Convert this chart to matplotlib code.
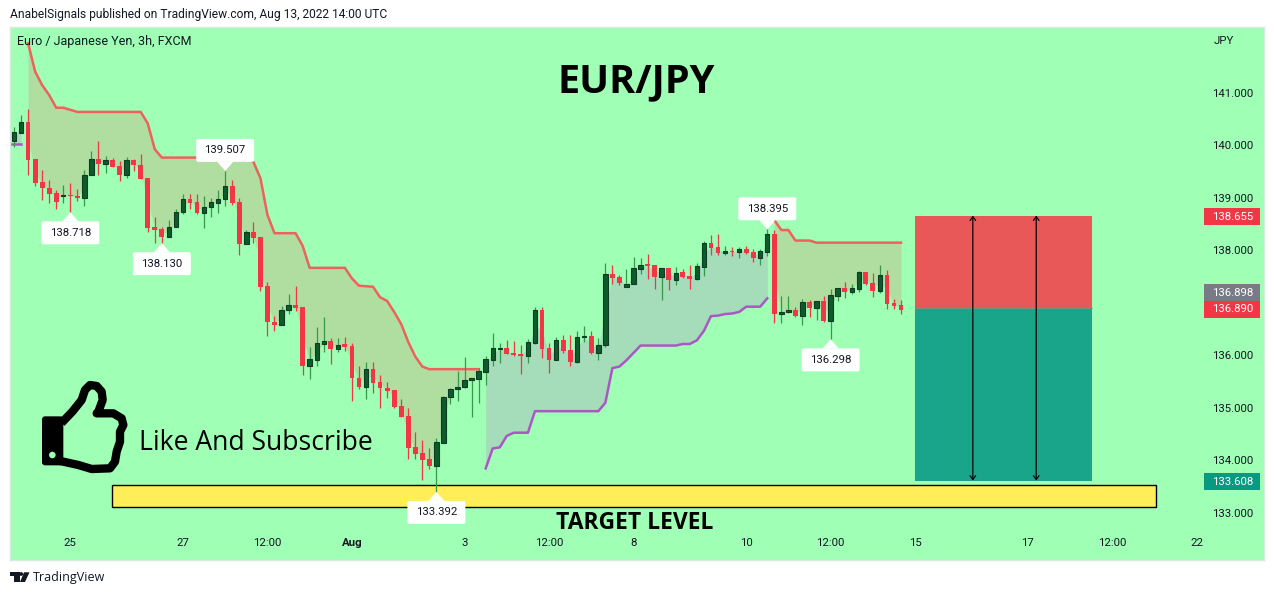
import matplotlib
matplotlib.use("Agg")
import matplotlib.pyplot as plt
from matplotlib.patches import Rectangle, Polygon, FancyBboxPatch, Circle
import numpy as np

# ---- data ----
opens = [140.08,140.23,140.43,139.73,139.29,139.19,139.08,139.03,139.05,139.03,139.00,139.42,139.73,139.64,139.71,139.60,139.43,139.71,139.62,139.37,
         138.44,138.40,138.25,138.43,138.72,138.97,138.91,138.71,138.81,138.90,138.97,139.22,138.91,138.12,138.34,138.24,137.31,136.63,136.58,136.85,
         136.96,136.91,135.80,135.91,136.21,136.26,136.12,136.21,136.17,135.57,135.40,135.73,135.49,135.38,135.33,135.02,134.83,134.24,134.13,134.01,
         133.89,134.33,135.20,135.36,135.40,135.53,135.55,135.68,135.91,136.12,136.13,136.03,136.01,135.99,136.23,136.86,136.13,135.91,136.29,136.09,
         135.87,136.35,136.36,136.04,136.20,137.54,137.49,137.30,137.36,137.64,137.71,137.71,137.49,137.66,137.43,137.58,137.50,137.45,137.68,138.13,
         138.06,137.95,137.97,137.97,138.02,137.96,137.85,137.96,138.30,136.78,136.81,136.86,136.74,137.01,136.90,137.03,136.65,137.12,137.27,137.20,
         137.26,137.58,137.37,137.22,137.52,136.99,136.95]
closes = [140.25,140.43,139.72,139.28,139.19,139.07,138.92,139.04,139.02,138.99,139.42,139.73,139.64,139.71,139.59,139.43,139.71,139.61,139.36,138.42,
          138.39,138.25,138.43,138.72,138.97,138.90,138.70,138.81,138.91,138.97,139.22,138.90,138.12,138.34,138.23,137.30,136.62,136.57,136.85,136.96,
          136.90,135.80,135.92,136.22,136.26,136.12,136.20,136.16,135.57,135.40,135.73,135.47,135.38,135.32,135.01,134.82,134.23,134.12,134.00,133.89,
          134.34,135.20,135.36,135.40,135.53,135.56,135.69,135.92,136.13,136.13,136.02,136.00,135.98,136.24,136.85,136.11,135.90,136.28,136.08,135.87,
          136.35,136.35,136.04,136.20,137.54,137.47,137.37,137.36,137.65,137.71,137.70,137.49,137.65,137.43,137.57,137.49,137.45,137.69,138.13,138.04,
          137.94,137.98,137.96,138.01,137.94,137.85,137.98,138.30,136.78,136.81,136.86,136.74,137.01,136.90,137.02,136.65,137.14,137.27,137.20,137.27,
          137.58,137.35,137.22,137.52,136.97,136.93,136.86]
highs = [140.34,140.57,140.68,139.73,139.52,139.33,139.15,139.24,139.27,139.16,139.52,139.89,140.08,139.80,139.76,139.69,139.78,139.73,139.82,139.38,
         138.63,138.43,138.57,138.79,139.07,139.07,139.07,139.03,139.00,139.14,139.507,139.33,139.00,138.39,138.53,138.24,137.40,136.74,136.93,137.17,
         137.31,136.91,136.15,136.53,136.72,136.32,136.32,136.34,136.22,135.79,135.87,135.87,135.62,135.49,135.33,135.16,135.00,134.53,134.39,134.22,
         134.41,135.22,135.38,135.69,135.97,135.57,135.76,135.98,136.42,136.23,136.29,136.27,136.19,136.30,136.91,136.91,136.23,136.34,136.38,136.38,
         136.46,136.55,136.46,136.32,137.75,137.71,137.52,137.64,137.87,137.85,137.92,137.71,137.65,137.66,137.67,137.64,137.71,137.75,138.17,138.29,
         138.30,138.08,138.06,138.06,138.08,138.02,138.02,138.395,138.38,137.12,137.12,136.91,137.07,137.05,137.03,137.12,137.26,137.28,137.39,137.35,
         137.60,137.58,137.56,137.71,137.62,137.07,137.05]
lows = [139.97,140.23,139.42,139.21,138.95,138.89,138.78,138.89,138.718,138.93,138.84,139.42,139.42,139.46,139.59,139.32,139.38,139.51,139.36,138.35,
        138.14,138.13,138.25,138.43,138.68,138.79,138.68,138.42,138.62,138.71,138.83,138.86,137.91,138.12,138.14,137.22,136.37,136.46,136.58,136.79,
        136.84,135.62,135.55,135.80,136.06,135.83,136.06,136.08,135.13,135.35,135.17,135.28,135.00,135.18,135.00,134.82,134.02,134.01,133.62,133.82,
        133.392,134.32,135.07,135.13,135.38,134.82,135.09,135.43,135.80,135.85,136.02,135.98,135.64,135.84,136.21,135.94,135.66,135.90,136.04,135.79,
        135.85,136.25,136.02,135.90,136.15,137.35,137.33,137.30,137.36,137.54,137.45,137.26,137.05,137.24,137.33,137.47,137.26,137.43,137.50,137.90,
        137.90,137.90,137.89,137.85,137.92,137.77,137.72,137.89,136.61,136.61,136.80,136.72,136.57,136.72,136.67,136.63,136.298,137.03,137.09,137.16,
        137.20,137.33,137.10,137.18,136.88,136.88,136.78]

upper_band_a = [141.94,141.40,141.14,140.95,140.71,140.71,140.67,140.63,140.63,140.63,140.63,140.63,140.63,140.63,140.63,140.63,140.63,140.41,139.92,139.76,
                139.76,139.76,139.76,139.76,139.76,139.76,139.76,139.76,139.76,139.76,139.76,139.76,139.68,139.37,138.67,138.32,138.32,138.32,138.32,138.08,
                137.66,137.66,137.66,137.66,137.66,137.66,137.46,137.32,137.31,137.30,137.10,137.03,136.82,136.59,136.25,135.97,135.78,135.73,135.73,135.73,
                135.73,135.73,135.73,135.73,135.73]
upper_band_b = [138.57,138.38,138.38,138.18,138.18,138.18,138.14,138.14,138.14,138.14,138.14,138.14,138.14,138.14,138.14,138.14,138.14,138.14,138.14]
lower_band_a = [140.02,140.02,140.02]
lower_band_b = [133.84,134.22,134.24,134.46,134.52,134.52,134.52,134.93,134.93,134.93,134.93,134.93,134.93,134.93,134.93,134.93,134.93,135.09,135.75,135.78,
                135.90,136.04,136.18,136.18,136.18,136.18,136.18,136.18,136.21,136.21,136.28,136.46,136.74,136.75,136.78,136.79,136.82,136.92,136.92,136.92,137.08]

price_ticks = [133, 134, 135, 136, 138, 139, 140, 141]
time_ticks = [8, 24, 36, 48, 64, 76, 88, 104, 116, 128, 144, 156, 168]
time_labels = ["25", "27", "12:00", "Aug", "3", "12:00", "8", "10", "12:00", "15", "17", "12:00", "22"]

extreme_bars = [8, 21, 30, 60, 107, 116]
extreme_sides = ["low", "low", "high", "low", "high", "low"]

entry_price = 136.898
stop_price = 138.655
target_price = 133.608
last_price = 136.890
target_zone = (133.10, 133.53)

# ---- layout ----
W, H = 1274, 595
PANE = (10, 27, 1264, 560)
X0, DX = 14.0, 7.04
P141, PPU = 92.5, 52.5
BG = "#9effb5"
INK = "#131722"
RED = "#f23645"
BODY_UP = "#0f5a2a"
EDGE_UP = "#0b3d25"
WICK_UP = "#379a49"
FILL_DN = "#b0dda0"
FILL_UP = "#a5dcb9"
FONT = "Open Sans"
TICKFONT = "Roboto"

fig = plt.figure(figsize=(W / 100, H / 100), dpi=100, facecolor="white")
ax = fig.add_axes([PANE[0] / W, 1 - PANE[3] / H, (PANE[2] - PANE[0]) / W, (PANE[3] - PANE[1]) / H], facecolor=BG)
ax.set_xlim((PANE[0] - X0) / DX, (PANE[2] - X0) / DX)
ax.set_ylim(141 - (PANE[3] - P141) / PPU, 141 + (P141 - PANE[1]) / PPU)
for s in ax.spines.values():
    s.set_color("#d5ecdc")
    s.set_linewidth(1)

o, c, hi, lo = map(np.array, (opens, closes, highs, lows))
x = np.arange(len(o))
mid = (o + c) / 2


def band(values, start, line_color, fill_color):
    v = np.array(values)
    idx = np.arange(start, start + len(v))
    keep = (idx >= 0) & (idx < len(o))
    ax.fill_between(idx[keep], mid[idx[keep]], v[keep], color=fill_color, lw=0, zorder=1)
    ax.plot(idx, v, color=line_color, lw=1.8, zorder=2, solid_joinstyle="round", alpha=0.95)


band(upper_band_a, 2, "#f25a5a", FILL_DN)
band(upper_band_b, 108, "#f25a5a", FILL_DN)
band(lower_band_a, -1, "#ad4fc6", FILL_UP)
band(lower_band_b, 67, "#ad4fc6", FILL_UP)

up = c >= o
ax.vlines(x[up], lo[up], hi[up], color=WICK_UP, lw=0.9, zorder=3)
ax.vlines(x[~up], lo[~up], hi[~up], color=RED, lw=0.9, zorder=3)
ax.bar(x[up], np.maximum(c - o, 0.02)[up], bottom=o[up], width=0.62, color=BODY_UP, edgecolor=EDGE_UP, lw=0.8, zorder=4)
ax.bar(x[~up], np.maximum(o - c, 0.03)[~up], bottom=c[~up], width=0.68, color=RED, lw=0, zorder=4)

# risk / reward boxes
bx0, bx1 = 128, 153.15
ax.add_patch(Rectangle((bx0, entry_price), bx1 - bx0, stop_price - entry_price, color="#e85858", lw=0, zorder=2))
ax.add_patch(Rectangle((bx0, target_price), bx1 - bx0, entry_price - target_price, color="#18a589", lw=0, zorder=2))
ax.plot([bx0, bx1], [entry_price, entry_price], color="#8a8f7c", lw=0.6, zorder=2)
for ax_i in (136.2, 145.2):
    ax.annotate("", xy=(ax_i, stop_price), xytext=(ax_i, target_price),
                arrowprops=dict(arrowstyle="<->,head_length=0.28,head_width=0.2", color="black", lw=0.85,
                                shrinkA=0, shrinkB=0), zorder=3)

# target zone
ax.add_patch(Rectangle((13.9, target_zone[0]), 162.2 - 13.9, target_zone[1] - target_zone[0], fc="#ffee58", ec="black", lw=1, zorder=1.5))

# axes ticks inside the pane
ax.set_yticks(price_ticks)
ax.set_yticklabels([f"{p:.3f}" for p in price_ticks], fontname=TICKFONT, fontsize=8.2, color=INK, ha="right")
ax.yaxis.tick_right()
ax.tick_params(axis="y", length=0, pad=-8)
ax.set_xticks(time_ticks)
ax.set_xticklabels(time_labels, fontname=TICKFONT, fontsize=8.2, color=INK)
ax.tick_params(axis="x", length=0, pad=-16)
for lab in ax.get_xticklabels():
    if lab.get_text() == "Aug":
        lab.set_fontweight("bold")

# ---- overlay in pixel coordinates ----
ov = fig.add_axes([0, 0, 1, 1], facecolor="none")
ov.set_xlim(0, W)
ov.set_ylim(H, 0)
ov.axis("off")


def px(i):
    return X0 + DX * i


def py(p):
    return P141 + (141 - p) * PPU


# extreme value labels
for i, side in zip(extreme_bars, extreme_sides):
    value = lo[i] if side == "low" else hi[i]
    tx, ty = px(i), py(value)
    s = 1 if side == "low" else -1
    gap, bh, bw = 8, 23, 58
    near = ty + s * (gap + 1)
    cy = near + s * bh / 2
    ov.add_patch(FancyBboxPatch((tx - bw / 2 + 1, cy - bh / 2 + 1), bw - 2, bh - 2,
                                boxstyle="round,pad=1,rounding_size=2", fc="white", ec="none", zorder=6))
    ov.add_patch(Polygon([(tx, ty), (tx - 8, near), (tx + 8, near)], fc="white", ec="none", zorder=6))
    ov.text(tx, cy, f"{value:.3f}", ha="center", va="center", fontname=TICKFONT, fontsize=8.2, color=INK, zorder=7)

# price tags
tags = [(216.5, stop_price, RED), (292.7, entry_price, "#787b86"), (309.5, last_price, RED), (481.7, target_price, "#089981")]
for cy, val, col in tags:
    ov.add_patch(Rectangle((1204, cy - 8.5), 56, 17, fc=col, ec="none", zorder=6))
    ov.text(1253, cy, f"{val:.3f}", ha="right", va="center", fontname=TICKFONT, fontsize=8.2, color="white", zorder=7)

# headings
ov.text(10, 14.5, "AnabelSignals published on TradingView.com, Aug 13, 2022 14:00 UTC", ha="left", va="center",
        fontname=TICKFONT, fontsize=8.65, color=INK)
ov.text(17, 42, "Euro / Japanese Yen, 3h, FXCM", ha="left", va="center", fontname=TICKFONT, fontsize=9.0, color=INK)
ov.text(1214, 41, "JPY", ha="left", va="center", fontname=TICKFONT, fontsize=8.2, color=INK)
ov.text(636, 82, "EUR/JPY", ha="center", va="center", fontname=FONT, fontsize=28.5, fontweight="bold", color="black")
ov.text(635, 523, "TARGET LEVEL", ha="center", va="center", fontname=FONT, fontsize=16.5, fontweight="bold", color="black")
ov.text(139, 443, "Like And Subscribe", ha="left", va="center", fontname=FONT, fontsize=19.1, color="black")

# thumb-up icon
ZX, ZY = 35, 375
thumb = np.array([(88, 135), (112, 110), (140, 75), (150, 45), (165, 30), (185, 33), (200, 50), (203, 75), (190, 110), (185, 115),
                  (235, 115), (260, 130), (265, 150), (255, 170), (255, 200), (245, 230), (240, 260), (225, 280), (170, 282),
                  (130, 270), (85, 260)], float)
ov.plot(ZX + thumb[:, 0] / 3, ZY + thumb[:, 1] / 3, color="black", lw=6, solid_joinstyle="round", zorder=5)
ov.add_patch(FancyBboxPatch((ZX + 24 / 3, ZY + 127 / 3), 58 / 3, 141 / 3, boxstyle="round,pad=1,rounding_size=3", fc="black", ec="none", zorder=5))
ov.add_patch(Circle((ZX + 52 / 3, ZY + 240 / 3), 3.3, fc=BG, ec="none", zorder=6))

# footer logo
ov.add_patch(Polygon([(10, 572.3), (19.5, 572.3), (19.5, 582), (14.3, 582), (14.3, 576), (10, 576)], fc=INK, ec="none"))
ov.add_patch(Circle((21.2, 574), 1.9, fc=INK, ec="none"))
ov.add_patch(Polygon([(24, 572.3), (29.5, 572.3), (25, 582), (20, 582)], fc=INK, ec="none"))
ov.text(33, 577.5, "TradingView", ha="left", va="center", fontname=FONT, fontsize=9, color=INK)

fig.savefig("out.png", dpi=100, facecolor="white")
